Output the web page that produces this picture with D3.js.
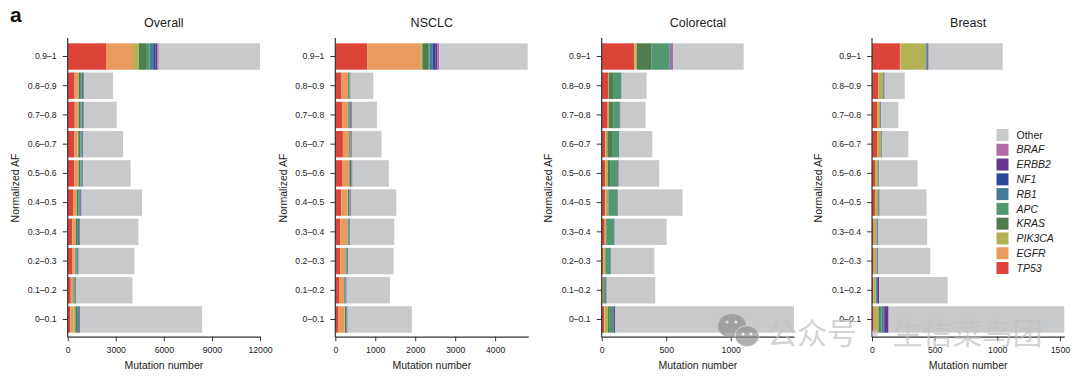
<!DOCTYPE html>
<meta charset="utf-8">
<style>
body { margin: 0; background: #fff; }
text { font-family: "Liberation Sans", sans-serif; fill: #222; }
.tick text { font-size: 8.7px; }
.axis-title { font-size: 10.5px; }
.panel-title { font-size: 12.5px; }
</style>
<div id="chart"></div>
<script src="https://d3js.org/d3.v7.min.js"></script>
<script>
var genes = ["TP53", "EGFR", "PIK3CA", "KRAS", "APC", "RB1", "NF1", "ERBB2", "BRAF", "Other"];
var geneColors = ["#dc4439", "#e99a5f", "#b3b355", "#4f7d4d", "#539770", "#427c97", "#2a4a98", "#67348e", "#b269a7", "#c8c9cb"];
var bins = ["0.9–1", "0.8–0.9", "0.7–0.8", "0.6–0.7", "0.5–0.6", "0.4–0.5", "0.3–0.4", "0.2–0.3", "0.1–0.2", "0–0.1"];

// one row per AF bin, columns in the same order as genes
var overallCounts = [
    [2390, 1685, 355, 455, 225, 275, 105, 100, 90, 6320],
    [430, 210, 50, 130, 60, 80, 30, 20, 20, 1800],
    [440, 200, 40, 130, 60, 80, 30, 20, 20, 2040],
    [420, 200, 40, 130, 60, 70, 30, 20, 10, 2470],
    [400, 240, 40, 110, 70, 60, 20, 10, 10, 2970],
    [330, 190, 50, 90, 60, 80, 40, 20, 10, 3770],
    [280, 180, 50, 70, 60, 70, 30, 20, 10, 3640],
    [270, 170, 40, 50, 60, 60, 20, 10, 10, 3470],
    [190, 140, 30, 50, 50, 40, 20, 10, 10, 3500],
    [160, 190, 130, 100, 70, 60, 30, 40, 10, 7600]
];
var nsclcCounts = [
    [800, 1340, 40, 160, 20, 80, 60, 50, 50, 2215],
    [158, 159, 5, 25, 10, 15, 6, 3, 2, 567],
    [167, 150, 10, 30, 8, 20, 15, 12, 5, 623],
    [190, 152, 8, 25, 10, 15, 10, 5, 2, 741],
    [183, 159, 10, 40, 15, 15, 6, 3, 2, 907],
    [150, 158, 10, 30, 10, 15, 10, 6, 3, 1133],
    [125, 175, 10, 25, 10, 15, 8, 5, 2, 1100],
    [125, 125, 8, 25, 10, 15, 10, 5, 2, 1133],
    [92, 125, 8, 20, 8, 15, 10, 5, 0, 1084],
    [67, 166, 10, 25, 8, 17, 10, 5, 0, 1608]
];
var colorectalCounts = [
    [253, 6, 14, 111, 142, 5, 3, 3, 18, 545],
    [49, 2, 3, 34, 64, 1, 1, 0, 1, 193],
    [46, 3, 8, 33, 49, 1, 1, 1, 5, 193],
    [28, 3, 13, 36, 54, 1, 1, 0, 1, 255],
    [28, 3, 18, 16, 61, 1, 2, 1, 4, 312],
    [26, 3, 17, 6, 72, 1, 1, 0, 3, 498],
    [23, 3, 8, 5, 56, 1, 2, 1, 2, 402],
    [13, 3, 10, 2, 39, 2, 2, 1, 0, 336],
    [8, 1, 4, 5, 16, 2, 2, 1, 0, 376],
    [18, 3, 28, 8, 31, 3, 5, 9, 1, 1384]
];
var breastCounts = [
    [223, 3, 202, 2, 3, 6, 4, 8, 1, 591],
    [48, 2, 38, 1, 1, 3, 3, 4, 1, 160],
    [40, 1, 23, 1, 1, 2, 3, 2, 1, 136],
    [40, 1, 31, 1, 1, 2, 3, 2, 1, 208],
    [24, 1, 23, 1, 1, 3, 2, 2, 1, 306],
    [24, 1, 23, 1, 1, 3, 3, 4, 1, 375],
    [13, 1, 21, 1, 2, 4, 3, 3, 0, 393],
    [13, 1, 21, 1, 2, 4, 3, 3, 0, 417],
    [11, 1, 17, 1, 3, 6, 7, 11, 1, 546],
    [13, 3, 37, 18, 6, 15, 10, 30, 1, 1402]
];

var panelTitles = ["Overall", "NSCLC", "Colorectal", "Breast"];
var panelCounts = [overallCounts, nsclcCounts, colorectalCounts, breastCounts];
var panelMax = [12000, 4830, 1490, 1535];
var panelTicks = [[0, 3000, 6000, 9000, 12000], [0, 1000, 2000, 3000, 4000], [0, 500, 1000], [0, 500, 1000, 1500]];

var width = 1080, height = 376;
var panelLeft = [67.7, 335.3, 601.7, 872];
var panelRight = [260, 528.3, 794, 1064.3];
var ylabelX = [15.5, 283.5, 548.5, 818.5];
var barsTop = 40.5, barsBottom = 335.5, axisY = 336.7;

var svg = d3.select("#chart").append("svg")
    .attr("width", width)
    .attr("height", height)
    .style("display", "block");

svg.append("text")
    .attr("x", 10)
    .attr("y", 22)
    .attr("font-size", "21px")
    .attr("font-weight", "bold")
    .style("fill", "#111")
    .text("a");

var y = d3.scaleBand()
    .domain(bins)
    .range([barsTop, barsBottom])
    .padding(0.096);

var stack = d3.stack().keys(d3.range(genes.length));

panelTitles.forEach(function(title, p) {
    var x = d3.scaleLinear()
        .domain([0, panelMax[p]])
        .range([panelLeft[p], panelRight[p]]);

    var series = stack(panelCounts[p]);

    svg.append("g")
        .selectAll("g")
        .data(series)
        .enter().append("g")
        .attr("fill", function(d, i) { return geneColors[i]; })
        .selectAll("rect")
        .data(function(d) { return d; })
        .enter().append("rect")
        .attr("x", function(d) { return x(d[0]); })
        .attr("y", function(d, i) { return y(bins[i]); })
        .attr("width", function(d) { return x(d[1]) - x(d[0]); })
        .attr("height", y.bandwidth());

    var xAxis = svg.append("g")
        .attr("transform", "translate(0," + axisY + ")")
        .call(d3.axisBottom(x).tickValues(panelTicks[p]).tickFormat(d3.format("d")).tickSize(4.5).tickSizeOuter(0));
    xAxis.select(".domain").attr("stroke", "#333").attr("stroke-width", 1.2);
    xAxis.selectAll(".tick line").attr("stroke", "#333");
    xAxis.selectAll(".tick text").attr("y", 10);

    var yAxis = svg.append("g")
        .attr("transform", "translate(" + panelLeft[p] + ",0)")
        .call(d3.axisLeft(y).tickSize(5).tickPadding(6));
    yAxis.select(".domain").remove();
    yAxis.selectAll(".tick line").attr("stroke", "#333");
    yAxis.append("line")
        .attr("y1", 38)
        .attr("y2", axisY + 0.6)
        .attr("stroke", "#333")
        .attr("stroke-width", 1.2);

    svg.append("text")
        .attr("class", "panel-title")
        .attr("x", (panelLeft[p] + panelRight[p]) / 2)
        .attr("y", 26.5)
        .attr("text-anchor", "middle")
        .text(title);

    svg.append("text")
        .attr("class", "axis-title")
        .attr("x", (panelLeft[p] + panelRight[p]) / 2)
        .attr("y", 368.5)
        .attr("text-anchor", "middle")
        .text("Mutation number");

    svg.append("text")
        .attr("class", "axis-title")
        .attr("transform", "translate(" + (ylabelX[p] + 3.6) + ",188) rotate(-90)")
        .attr("text-anchor", "middle")
        .text("Normalized AF");
});

// legend runs top to bottom from Other down to TP53
var legendGenes = genes.slice().reverse();
var legendColors = geneColors.slice().reverse();
var legendY = d3.scalePoint()
    .domain(legendGenes)
    .range([135, 268]);

var legend = svg.append("g");
legend.selectAll("rect")
    .data(legendGenes)
    .enter().append("rect")
    .attr("x", 996.5)
    .attr("y", function(d) { return legendY(d) - 6; })
    .attr("width", 12)
    .attr("height", 12)
    .attr("fill", function(d, i) { return legendColors[i]; });
legend.selectAll("text")
    .data(legendGenes)
    .enter().append("text")
    .attr("x", 1016.5)
    .attr("y", function(d) { return legendY(d) + 3.7; })
    .attr("font-size", "10.5px")
    .attr("font-style", function(d) { return d == "Other" ? "normal" : "italic"; })
    .text(function(d) { return d; });

// watermark on top of the chart
var mark = svg.append("g").attr("opacity", 0.7);
mark.append("ellipse").attr("cx", 732).attr("cy", 326).attr("rx", 14).attr("ry", 12).attr("fill", "#8f8f8f");
mark.append("ellipse").attr("cx", 747).attr("cy", 336).attr("rx", 12).attr("ry", 10.5).attr("fill", "#8f8f8f").attr("stroke", "#e8e8e8").attr("stroke-width", 0.8);
mark.selectAll("circle")
    .data([[727, 322], [736, 322], [743, 334], [751, 334]])
    .enter().append("circle")
    .attr("cx", function(d) { return d[0]; })
    .attr("cy", function(d) { return d[1]; })
    .attr("r", 1.6)
    .attr("fill", "#e8e8e8");
mark.append("text")
    .attr("x", 767)
    .attr("y", 344)
    .attr("font-size", "30px")
    .attr("word-spacing", "-4px")
    .style("font-family", "'Noto Sans CJK SC'")
    .style("fill", "#c2c2c2")
    .text("公众号 · 生信菜鸟团");
</script>
